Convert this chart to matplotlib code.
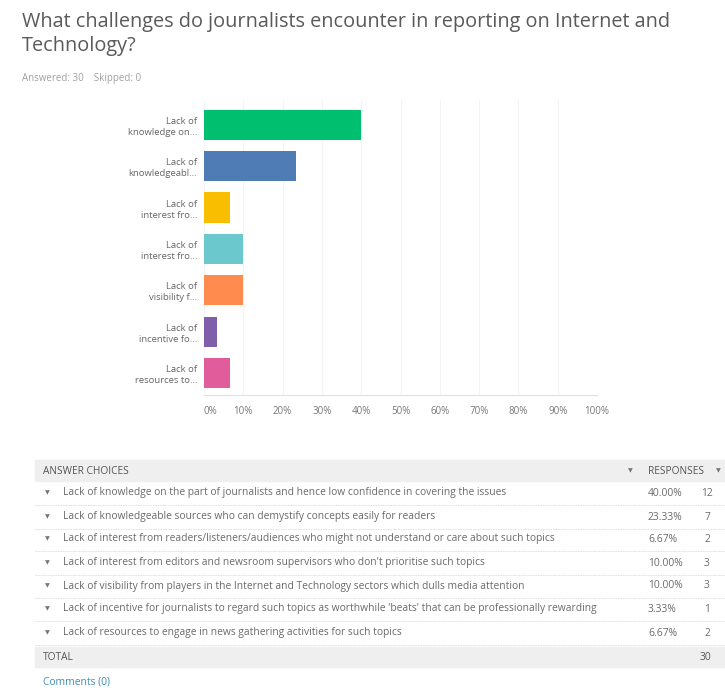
import matplotlib
matplotlib.use("Agg")
import matplotlib.pyplot as plt
from matplotlib.patches import Rectangle

plt.rcParams["font.family"] = ["Open Sans", "DejaVu Sans"]

W, H = 725, 688

short_labels = [
    "Lack of\nknowledge on...",
    "Lack of\nknowledgeabl...",
    "Lack of\ninterest fro...",
    "Lack of\ninterest fro...",
    "Lack of\nvisibility f...",
    "Lack of\nincentive fo...",
    "Lack of\nresources to...",
]
answer_choices = [
    "Lack of knowledge on the part of journalists and hence low confidence in covering the issues",
    "Lack of knowledgeable sources who can demystify concepts easily for readers",
    "Lack of interest from readers/listeners/audiences who might not understand or care about such topics",
    "Lack of interest from editors and newsroom supervisors who don't prioritise such topics",
    "Lack of visibility from players in the Internet and Technology sectors which dulls media attention",
    "Lack of incentive for journalists to regard such topics as worthwhile 'beats' that can be professionally rewarding",
    "Lack of resources to engage in news gathering activities for such topics",
]
responses = [12, 7, 2, 3, 3, 1, 2]
total = 30
percent = [100 * r / total for r in responses]
colors = ["#00bf6f", "#507cb6", "#f9be00", "#6bc8cd", "#ff8b4f", "#7f5fa9", "#e05c9a"]
x_ticks = list(range(0, 101, 10))


def px(x):
    return x / W


def py(y):
    return 1 - y / H


fig = plt.figure(figsize=(W / 100, H / 100), dpi=100)

# title block
fig.text(px(22), py(22), "What challenges do journalists encounter in reporting on Internet and",
         fontsize=14.3, color="#5a5a5a", va="center")
fig.text(px(22), py(46), "Technology?", fontsize=14.3, color="#5a5a5a", va="center")
fig.text(px(22), py(78), "Answered: 30    Skipped: 0", fontsize=7, color="#a0a0a0", va="center")

# bar chart
ax = fig.add_axes([px(204), py(395), px(597 - 204), (395 - 100) / H])
ypos = list(range(len(percent)))
ax.barh(ypos, percent, height=0.73, color=colors, zorder=3)
ax.set_xlim(0, 100)
ax.set_ylim(6.53, -0.6)
ax.set_xticks(x_ticks)
ax.set_xticklabels([f"{t}%" for t in x_ticks], fontsize=7, color="#777777")
ax.get_xticklabels()[0].set_ha("left")
ax.set_yticks(ypos)
ax.set_yticklabels(short_labels, fontsize=6.8, color="#666666", linespacing=1.3)
ax.tick_params(length=0, pad=8)
ax.tick_params(axis="y", pad=5)
ax.xaxis.grid(True, color="#f4f4f4", linewidth=0.8, zorder=0)
for s in ["top", "right", "left"]:
    ax.spines[s].set_visible(False)
ax.spines["bottom"].set_color("#e0e0e0")
ax.spines["bottom"].set_linewidth(0.8)

# response table
row_y = [493, 517, 539, 563, 586, 609, 633]
fig.patches.append(Rectangle((px(35), py(481)), px(725 - 35), 21 / H,
                             transform=fig.transFigure, color="#efefef", zorder=0))
fig.patches.append(Rectangle((px(35), py(667)), px(725 - 35), 20 / H,
                             transform=fig.transFigure, color="#efefef", zorder=0))
fig.text(px(43), py(471), "ANSWER CHOICES", fontsize=7.3, color="#555555", va="center")
fig.text(px(630), py(471), "▼", fontsize=4.5, color="#777777", va="center", ha="center")
fig.text(px(648), py(471), "RESPONSES", fontsize=7.3, color="#555555", va="center")
fig.text(px(718), py(471), "▼", fontsize=4.5, color="#777777", va="center", ha="center")

for i, (txt, p, r) in enumerate(zip(answer_choices, percent, responses)):
    y = row_y[i]
    fig.text(px(47), py(y), "▼", fontsize=4.5, color="#777777", va="center", ha="center")
    fig.text(px(63), py(y), txt, fontsize=7.4, color="#6a6a6a", va="center")
    fig.text(px(648), py(y), f"{p:.2f}%", fontsize=7.4, color="#6a6a6a", va="center")
    fig.text(px(707), py(y), str(r), fontsize=7.4, color="#6a6a6a", va="center", ha="center")
    sep = y + 11.5
    fig.add_artist(plt.Line2D([px(35), px(725)], [py(sep), py(sep)], color="#dddddd",
                              linewidth=0.6, linestyle=(0, (2, 1)), transform=fig.transFigure))

fig.text(px(43), py(657), "TOTAL", fontsize=7.3, color="#555555", va="center")
fig.text(px(711), py(657), str(total), fontsize=7.4, color="#555555", va="center", ha="right")
fig.text(px(43), py(682), "Comments (0)", fontsize=7.4, color="#3d8fb6", va="center")

fig.savefig("out.png", dpi=100, facecolor="white")
